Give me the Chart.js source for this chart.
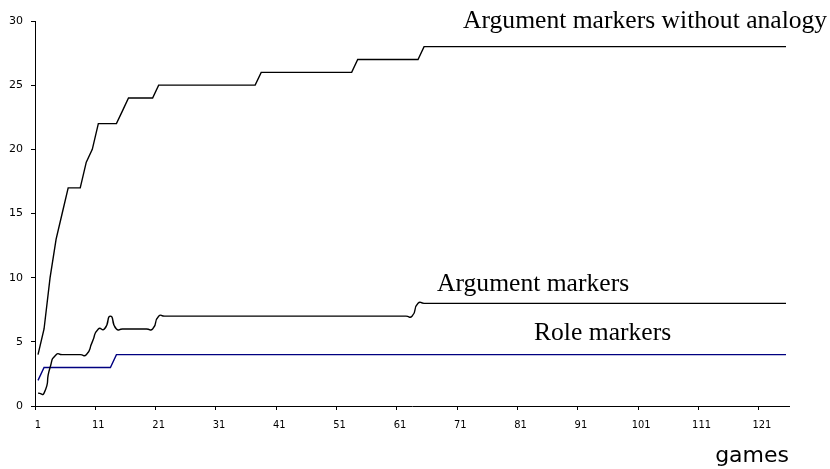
<!DOCTYPE html>
<html>
<head>
<meta charset="utf-8">
<script src="https://cdn.jsdelivr.net/npm/chart.js@4/dist/chart.umd.min.js"></script>
<style>
  html, body { margin: 0; padding: 0; background: #fff; }
  #wrap { width: 830px; height: 469px; }
</style>
</head>
<body>
<div id="wrap"><canvas id="chart" width="830" height="469"></canvas></div>
<script>
// ===== data (games 1..125) =====
const games = [
  1, 2, 3, 4, 5, 6, 7, 8, 9, 10, 11, 12, 13, 14, 15, 16, 17, 18, 19, 20,
  21, 22, 23, 24, 25, 26, 27, 28, 29, 30, 31, 32, 33, 34, 35, 36, 37, 38, 39, 40,
  41, 42, 43, 44, 45, 46, 47, 48, 49, 50, 51, 52, 53, 54, 55, 56, 57, 58, 59, 60,
  61, 62, 63, 64, 65, 66, 67, 68, 69, 70, 71, 72, 73, 74, 75, 76, 77, 78, 79, 80,
  81, 82, 83, 84, 85, 86, 87, 88, 89, 90, 91, 92, 93, 94, 95, 96, 97, 98, 99, 100,
  101, 102, 103, 104, 105, 106, 107, 108, 109, 110, 111, 112, 113, 114, 115, 116, 117, 118, 119, 120,
  121, 122, 123, 124, 125
];

const withoutAnalogy = [
  4, 6, 10, 13, 15, 17, 17, 17, 19, 20, 22, 22, 22, 22, 23, 24, 24, 24, 24, 24,
  25, 25, 25, 25, 25, 25, 25, 25, 25, 25, 25, 25, 25, 25, 25, 25, 25, 26, 26, 26,
  26, 26, 26, 26, 26, 26, 26, 26, 26, 26, 26, 26, 26, 27, 27, 27, 27, 27, 27, 27,
  27, 27, 27, 27, 28, 28, 28, 28, 28, 28, 28, 28, 28, 28, 28, 28, 28, 28, 28, 28,
  28, 28, 28, 28, 28, 28, 28, 28, 28, 28, 28, 28, 28, 28, 28, 28, 28, 28, 28, 28,
  28, 28, 28, 28, 28, 28, 28, 28, 28, 28, 28, 28, 28, 28, 28, 28, 28, 28, 28, 28,
  28, 28, 28, 28, 28
];

const argumentMarkers = [
  1, 1, 3, 4, 4, 4, 4, 4, 4, 5, 6, 6, 7, 6, 6, 6, 6, 6, 6, 6,
  7, 7, 7, 7, 7, 7, 7, 7, 7, 7, 7, 7, 7, 7, 7, 7, 7, 7, 7, 7,
  7, 7, 7, 7, 7, 7, 7, 7, 7, 7, 7, 7, 7, 7, 7, 7, 7, 7, 7, 7,
  7, 7, 7, 8, 8, 8, 8, 8, 8, 8, 8, 8, 8, 8, 8, 8, 8, 8, 8, 8,
  8, 8, 8, 8, 8, 8, 8, 8, 8, 8, 8, 8, 8, 8, 8, 8, 8, 8, 8, 8,
  8, 8, 8, 8, 8, 8, 8, 8, 8, 8, 8, 8, 8, 8, 8, 8, 8, 8, 8, 8,
  8, 8, 8, 8, 8
];

const roleMarkers = [
  2, 3, 3, 3, 3, 3, 3, 3, 3, 3, 3, 3, 3, 4, 4, 4, 4, 4, 4, 4,
  4, 4, 4, 4, 4, 4, 4, 4, 4, 4, 4, 4, 4, 4, 4, 4, 4, 4, 4, 4,
  4, 4, 4, 4, 4, 4, 4, 4, 4, 4, 4, 4, 4, 4, 4, 4, 4, 4, 4, 4,
  4, 4, 4, 4, 4, 4, 4, 4, 4, 4, 4, 4, 4, 4, 4, 4, 4, 4, 4, 4,
  4, 4, 4, 4, 4, 4, 4, 4, 4, 4, 4, 4, 4, 4, 4, 4, 4, 4, 4, 4,
  4, 4, 4, 4, 4, 4, 4, 4, 4, 4, 4, 4, 4, 4, 4, 4, 4, 4, 4, 4,
  4, 4, 4, 4, 4
];

const seriesNames = ["Argument markers without analogy", "Argument markers", "Role markers"];

// ===== text labels next to the lines =====
const seriesNotes = [
  { text: seriesNames[0], x: 463, y: 28 },
  { text: seriesNames[1], x: 437, y: 291 },
  { text: seriesNames[2], x: 534, y: 340 }
];

const notesPlugin = {
  id: "notes",
  afterDraw(chart) {
    const ctx = chart.ctx;
    ctx.save();
    ctx.fillStyle = "#000";
    ctx.font = '25.6px "Liberation Serif", "Times New Roman", serif';
    ctx.textAlign = "left";
    ctx.textBaseline = "alphabetic";
    seriesNotes.forEach(n => ctx.fillText(n.text, n.x, n.y));
    ctx.restore();
  }
};

const tickFont = { family: '"DejaVu Sans Condensed", "DejaVu Sans", sans-serif', size: 11 };

new Chart(document.getElementById("chart").getContext("2d"), {
  type: "line",
  data: {
    labels: games,
    datasets: [
      { label: seriesNames[0], data: withoutAnalogy, borderColor: "#000", borderWidth: 1.4, tension: 0 },
      { label: seriesNames[1], data: argumentMarkers, borderColor: "#000", borderWidth: 1.4, tension: 0.7 },
      { label: seriesNames[2], data: roleMarkers, borderColor: "#000080", borderWidth: 1.4, tension: 0 }
    ]
  },
  options: {
    responsive: false,
    animation: false,
    layout: { padding: { top: 21, right: 41, left: 0, bottom: 0 } },
    elements: { point: { radius: 0 } },
    plugins: { legend: { display: false }, tooltip: { enabled: false } },
    scales: {
      x: {
        type: "category",
        offset: true,
        grid: {
          offset: true,
          drawOnChartArea: false,
          tickLength: 4,
          color: c => (c.index % 10 === 0 ? "#000" : "rgba(0,0,0,0)")
        },
        border: { color: "#000", width: 1 },
        ticks: {
          autoSkip: false,
          maxRotation: 0,
          padding: 9,
          color: "#000",
          font: tickFont,
          callback: function (v, i) { return i % 10 === 0 ? this.getLabelForValue(v) : ""; }
        },
        title: {
          display: true,
          text: "games",
          align: "end",
          color: "#000",
          font: { family: '"DejaVu Sans", Verdana, sans-serif', size: 22 },
          padding: { top: 0, bottom: 0 }
        },
        afterFit: s => { s.height = 63; }
      },
      y: {
        min: 0,
        max: 30,
        grid: { drawOnChartArea: false, tickLength: 4, color: "#000" },
        border: { color: "#000", width: 1 },
        ticks: { stepSize: 5, padding: 8, color: "#000", font: { family: '"DejaVu Sans", sans-serif', size: 11 } },
        afterFit: s => { s.width = 35; }
      }
    }
  },
  plugins: [notesPlugin]
});
</script>
</body>
</html>
